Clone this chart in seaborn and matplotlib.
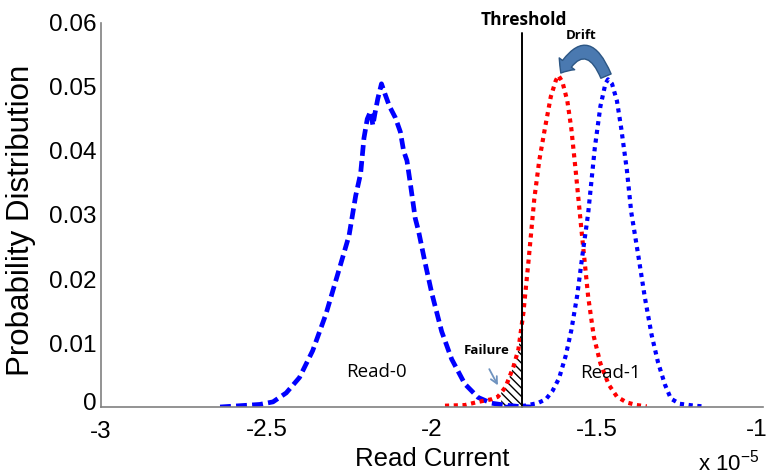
import numpy as np
import pandas as pd
import matplotlib
matplotlib.use("Agg")
import matplotlib.pyplot as plt
from matplotlib.patches import FancyArrowPatch
from matplotlib.transforms import ScaledTranslation
import seaborn as sns

# Read current in units of 1e-5 A, probability per bin
read0_x = [-2.64, -2.58, -2.52, -2.48, -2.44, -2.40, -2.36, -2.32, -2.28, -2.25,
           -2.23, -2.215, -2.205, -2.195, -2.185, -2.178, -2.172, -2.163, -2.152,
           -2.142, -2.128, -2.110, -2.095, -2.085, -2.075, -2.065, -2.050, -2.040,
           -2.020, -2.000, -1.97, -1.94, -1.90, -1.86, -1.82, -1.78, -1.74, -1.70]
read0_y = [0.0000, 0.0002, 0.0004, 0.0008, 0.0022, 0.0046, 0.0088, 0.0145, 0.0215, 0.0268,
           0.0330, 0.0365, 0.0420, 0.0450, 0.0462, 0.0440, 0.0458, 0.0482, 0.0505,
           0.0490, 0.0470, 0.0452, 0.0430, 0.0400, 0.0385, 0.0350, 0.0295, 0.0275,
           0.0225, 0.0178, 0.0118, 0.0075, 0.0036, 0.0015, 0.0006, 0.0003, 0.0001, 0.0000]

drifted_x = [-1.96, -1.90, -1.86, -1.82, -1.80, -1.777, -1.753, -1.738, -1.723, -1.708,
             -1.69, -1.675, -1.658, -1.64, -1.625, -1.617, -1.605, -1.59, -1.578, -1.565,
             -1.548, -1.527, -1.51, -1.49, -1.465, -1.44, -1.41, -1.38, -1.35]
drifted_y = [0.0002, 0.0003, 0.0008, 0.0012, 0.0016, 0.0031, 0.0063, 0.0090, 0.0147, 0.0225,
             0.0325, 0.0385, 0.0435, 0.0485, 0.0510, 0.0518, 0.0508, 0.0478, 0.0435, 0.0370,
             0.0280, 0.0172, 0.0110, 0.0068, 0.0035, 0.0016, 0.0007, 0.0003, 0.0001]

read1_x = [-1.78, -1.72, -1.68, -1.655, -1.635, -1.615, -1.595, -1.578, -1.56, -1.545,
           -1.527, -1.507, -1.49, -1.475, -1.467, -1.455, -1.44, -1.427, -1.41, -1.397,
           -1.375, -1.356, -1.335, -1.316, -1.295, -1.277, -1.25, -1.205, -1.18]
read1_y = [0.0000, 0.0002, 0.0006, 0.0012, 0.0025, 0.0045, 0.0080, 0.0120, 0.0175, 0.0235,
           0.0303, 0.0405, 0.0470, 0.0505, 0.0512, 0.0505, 0.0478, 0.0435, 0.0370, 0.0305,
           0.0235, 0.0172, 0.0112, 0.0070, 0.0035, 0.0013, 0.0005, 0.0002, 0.0001]

threshold = -1.726
failure_start = -1.79

x_ticks = [-3, -2.5, -2, -1.5, -1]
x_tick_labels = ["-3", "-2.5", "-2", "-1.5", "-1"]
y_ticks = [0, 0.01, 0.02, 0.03, 0.04, 0.05, 0.06]
y_tick_labels = ["0", "0.01", "0.02", "0.03", "0.04", "0.05", "0.06"]

sns.set_theme(style="white")
plt.rcParams["font.family"] = ["Liberation Sans", "DejaVu Sans"]
plt.rcParams["mathtext.default"] = "regular"
plt.rcParams["hatch.linewidth"] = 1.0
plt.rcParams["text.color"] = "black"
plt.rcParams["axes.labelcolor"] = "black"

fig = plt.figure(figsize=(7.68, 4.76), dpi=100)
ax = fig.add_axes([101 / 768, 69 / 476, 661.5 / 768, 384 / 476])

sns.lineplot(x=read0_x, y=read0_y, ax=ax, color=(0, 0, 1), linewidth=3.4,
             linestyle=(0, (2.3, 1.1)), estimator=None, sort=False)
sns.lineplot(x=drifted_x, y=drifted_y, ax=ax, color=(1, 0, 0), linewidth=3.0,
             linestyle=(0, (1, 1.1)), estimator=None, sort=False)
sns.lineplot(x=read1_x, y=read1_y, ax=ax, color=(0, 0, 1), linewidth=3.0,
             linestyle=(0, (1, 1.1)), estimator=None, sort=False)

# hatched failure area: drifted cells that fall below the threshold
fx = np.array(drifted_x)
fy = np.array(drifted_y)
mask = (fx >= failure_start) & (fx <= threshold)
fxs = np.concatenate([[failure_start], fx[mask], [threshold]])
fys = np.concatenate([[np.interp(failure_start, fx, fy)], fy[mask], [np.interp(threshold, fx, fy)]])
ax.fill_between(fxs, 0, fys, facecolor="none", edgecolor="black", hatch="\\\\\\\\", linewidth=0)

# threshold line
ax.plot([threshold, threshold], [0, 0.0584], color="black", linewidth=1.4, clip_on=False)

ax.set_xlim(-3, -1)
ax.set_ylim(0, 0.06)
ax.set_xticks(x_ticks)
ax.set_xticklabels(x_tick_labels)
ax.set_yticks(y_ticks)
ax.set_yticklabels(y_tick_labels)
ax.tick_params(axis="both", direction="in", length=4, width=1, color="#808080",
               labelsize=17.5, labelcolor="black", pad=3)
ax.tick_params(axis="x", pad=9)
for side in ("top", "right"):
    ax.spines[side].set_visible(False)
for side in ("left", "bottom"):
    ax.spines[side].set_color("#808080")
    ax.spines[side].set_linewidth(1.2)

# nudge the end labels so the corner and the right edge stay readable
ax.get_yticklabels()[0].set_transform(
    ax.get_yticklabels()[0].get_transform() + ScaledTranslation(0, 6 / 100, fig.dpi_scale_trans))
ax.get_xticklabels()[0].set_transform(
    ax.get_xticklabels()[0].get_transform() + ScaledTranslation(0, -2 / 100, fig.dpi_scale_trans))
ax.get_xticklabels()[-1].set_transform(
    ax.get_xticklabels()[-1].get_transform() + ScaledTranslation(-6 / 100, 0, fig.dpi_scale_trans))

ax.set_xlabel("Read Current", fontsize=18.5)
ax.xaxis.set_label_coords(0.5, -0.105)
ax.set_ylabel("Probability Distribution", fontsize=22.5)
ax.yaxis.set_label_coords(-0.099, 0.485)

fig.text(698 / 768, 6 / 476, r"x 10$^{-5}$", fontsize=16, ha="left", va="baseline")

ann_font = ["Open Sans", "DejaVu Sans"]
ax.text(-2.166, 0.0055, "Read-0", fontsize=13.5, family=ann_font, ha="center", va="center")
ax.text(-1.461, 0.0053, "Read-1", fontsize=13.5, family=ann_font, ha="center", va="center")
ax.text(threshold + 0.006, 0.0605, "Threshold", fontsize=12.5, fontweight="bold",
        family=ann_font, ha="center", va="center", clip_on=False)
ax.text(-1.548, 0.0581, "Drift", fontsize=9.5, fontweight="bold",
        family=ann_font, ha="center", va="center")
ax.text(-1.834, 0.0088, "Failure", fontsize=9.5, fontweight="bold",
        family=ann_font, ha="center", va="center")

ax.annotate("", xy=(-1.796, 0.0030), xytext=(-1.830, 0.0063),
            arrowprops=dict(arrowstyle="->", color="#6f93bf", lw=1.3))

drift = FancyArrowPatch((-1.470, 0.0513), (-1.614, 0.0518),
                        connectionstyle="arc3,rad=1.05",
                        arrowstyle="simple,head_width=14,head_length=8,tail_width=8",
                        facecolor="#4a79b0", edgecolor="#2c5684", linewidth=1.0,
                        mutation_scale=1, clip_on=False)
ax.add_patch(drift)

fig.savefig("out.png", dpi=100)
